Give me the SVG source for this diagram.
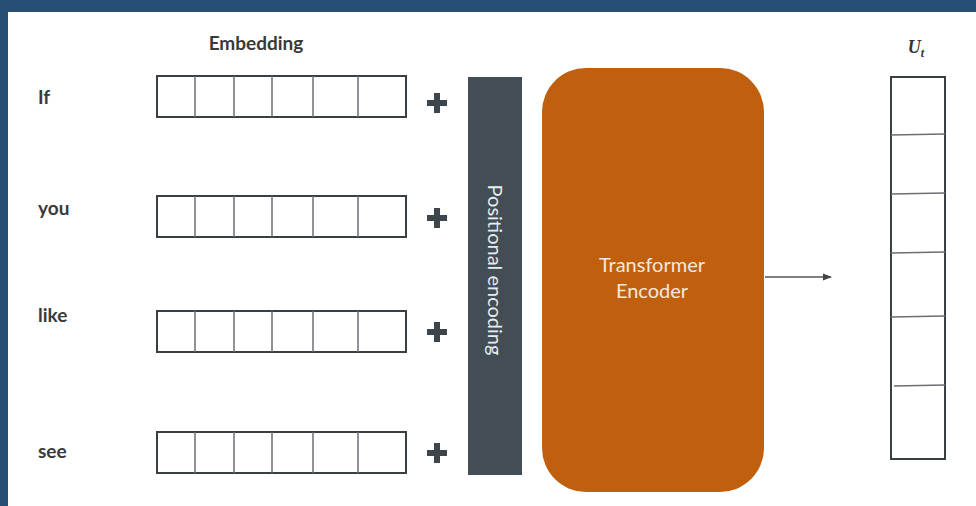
<svg xmlns="http://www.w3.org/2000/svg" width="976" height="506" viewBox="0 0 976 506">
  <style>
    .lbl { font-family: Lato, "Open Sans", sans-serif; font-size: 19px; font-weight: bold; fill: #3a3a3a; }
    .cell { fill: #ffffff; stroke: #3a3f44; stroke-width: 2; }
    .div { stroke: #6a6f74; stroke-width: 1.5; }
    .plus { fill: #3d464d; }
    .white { font-family: Lato, "Open Sans", sans-serif; font-size: 20px; fill: #f2e9dc; }
  </style>
  <defs>
    <marker id="arr" viewBox="0 0 10 10" refX="9" refY="5" markerWidth="7" markerHeight="7" orient="auto">
      <path d="M0,1 L10,5 L0,9 z" fill="#444"/>
    </marker>
    <!-- six-cell embedding vector -->
    <g id="emb">
      <rect class="cell" x="0" y="0" width="249" height="41"/>
      <line class="div" x1="38" y1="0" x2="38" y2="41"/>
      <line class="div" x1="77" y1="0" x2="77" y2="41"/>
      <line class="div" x1="115" y1="0" x2="115" y2="41"/>
      <line class="div" x1="156" y1="0" x2="156" y2="41"/>
      <line class="div" x1="201" y1="0" x2="201" y2="41"/>
    </g>
    <path id="plus" d="M-3,-10 H3 V-3 H10 V3 H3 V10 H-3 V3 H-10 V-3 H-3 Z"/>
  </defs>

  <!-- frame -->
  <rect x="0" y="0" width="976" height="506" fill="#264d73"/>
  <rect x="8" y="12" width="968" height="494" fill="#ffffff"/>

  <text class="lbl" x="256" y="50" text-anchor="middle">Embedding</text>
  <text x="916" y="53" text-anchor="middle" font-family="'Liberation Serif', serif" font-style="italic" font-weight="bold" font-size="18" fill="#333">U<tspan font-size="12" dy="4">t</tspan></text>

  <g id="row-if">
    <text class="lbl" x="38" y="104">If</text>
    <use href="#emb" x="157" y="76"/>
    <use href="#plus" class="plus" x="437" y="103"/>
  </g>
  <g id="row-you">
    <text class="lbl" x="38" y="215">you</text>
    <use href="#emb" x="157" y="196"/>
    <use href="#plus" class="plus" x="437" y="218"/>
  </g>
  <g id="row-like">
    <text class="lbl" x="38" y="322">like</text>
    <use href="#emb" x="157" y="311"/>
    <use href="#plus" class="plus" x="437" y="332"/>
  </g>
  <g id="row-see">
    <text class="lbl" x="38" y="458">see</text>
    <use href="#emb" x="157" y="432"/>
    <use href="#plus" class="plus" x="437" y="453"/>
  </g>

  <g id="positional-encoding">
    <rect x="468" y="77" width="54" height="398" fill="#434d55"/>
    <text class="white" x="0" y="0" text-anchor="middle" transform="translate(488,270) rotate(90)" style="fill:#e8ecef">Positional encoding</text>
  </g>

  <g id="transformer-encoder">
    <rect x="542" y="68" width="222" height="424" rx="44" ry="44" fill="#c0600f"/>
    <text class="white" x="652" y="272" text-anchor="middle">Transformer</text>
    <text class="white" x="652" y="298" text-anchor="middle">Encoder</text>
  </g>

  <g id="output-ut">
    <rect class="cell" x="891" y="77" width="54" height="382"/>
    <line class="div" x1="891" y1="135" x2="945" y2="134"/>
    <line class="div" x1="891" y1="194" x2="945" y2="193"/>
    <line class="div" x1="891" y1="253" x2="945" y2="252"/>
    <line class="div" x1="891" y1="317" x2="945" y2="316"/>
    <line class="div" x1="894" y1="386" x2="945" y2="385"/>
  </g>

  <g id="connectors">
    <line x1="765" y1="277" x2="831" y2="277" stroke="#555" stroke-width="1.3" marker-end="url(#arr)"/>
  </g>
</svg>
